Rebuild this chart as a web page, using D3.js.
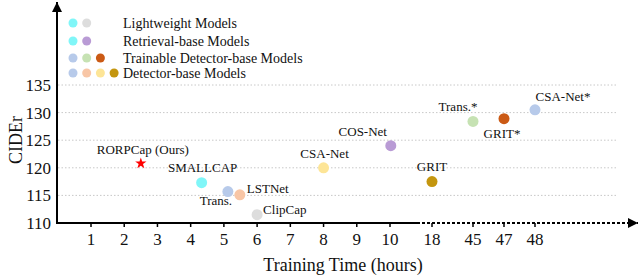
<!DOCTYPE html>
<html>
<head>
<meta charset="utf-8">
<script src="https://cdn.jsdelivr.net/npm/d3@7"></script>
<style>
  body { margin: 0; background: #fff; }
  text { font-family: "Liberation Serif", "DejaVu Serif", serif; fill: #111; }
</style>
</head>
<body>
<svg id="chart" width="640" height="276"></svg>
<script>
// tick labels on the broken time axis
var xTicks = [1, 2, 3, 4, 5, 6, 7, 8, 9, 10, 18, 45, 47, 48];
var yTicks = [110, 115, 120, 125, 130, 135];

// models: name, training hours, CIDEr, colour
var names  = ["SMALLCAP", "Trans.", "LSTNet", "ClipCap", "CSA-Net", "COS-Net", "GRIT", "Trans.*", "GRIT*", "CSA-Net*"];
var hours  = [4.33, 5.12, 5.48, 6.0, 8.0, 10.15, 18, 45, 47, 48];
var cider  = [117.3, 115.7, 115.1, 111.5, 120.0, 124.0, 117.5, 128.4, 128.9, 130.5];
var colors = ["#80f6f8", "#b7caea", "#f8c6a6", "#dddddd", "#fde597", "#b99bd5", "#c4960f", "#c6e2b3", "#cb5a15", "#b7caea"];

var ours = { name: "RORPCap (Ours)", hours: 2.5, cider: 120.8 };

// legend rows
var legendLabels = ["Lightweight Models", "Retrieval-base Models", "Trainable Detector-base Models", "Detector-base Models"];
var legendColors = [
    ["#80f6f8", "#dddddd"],
    ["#80f6f8", "#b99bd5"],
    ["#b7caea", "#c6e2b3", "#cb5a15"],
    ["#b7caea", "#f8c6a6", "#fde597", "#c4960f"]
];

var svg = d3.select("#chart");

// piecewise scale, the axis is broken after 10 hours
var x = d3.scaleLinear()
    .domain([0, 1, 10, 18, 45, 47, 48])
    .range([57, 91, 390, 432, 473, 504, 535]);

var y = d3.scaleLinear()
    .domain([110, 135])
    .range([223, 85]);

// grid
svg.append("g").selectAll("line")
    .data(yTicks.slice(1))
    .enter().append("line")
    .attr("x1", 58).attr("x2", 617)
    .attr("y1", function(d) { return y(d); })
    .attr("y2", function(d) { return y(d); })
    .attr("stroke", "#c8c8c8")
    .attr("stroke-width", 1)
    .attr("stroke-dasharray", "1.5,2");

svg.append("defs").append("marker")
    .attr("id", "arrow")
    .attr("viewBox", "0 0 10 10")
    .attr("refX", 10).attr("refY", 5)
    .attr("markerWidth", 10).attr("markerHeight", 10)
    .attr("markerUnits", "userSpaceOnUse")
    .attr("orient", "auto")
    .append("path")
    .attr("d", "M0,0 L10,5 L0,10 Z")
    .attr("fill", "#000");

// y axis
svg.append("line")
    .attr("x1", 57).attr("x2", 57)
    .attr("y1", 224).attr("y2", 2)
    .attr("stroke", "#000").attr("stroke-width", 2)
    .attr("marker-end", "url(#arrow)");

svg.append("g").selectAll("text")
    .data(yTicks)
    .enter().append("text")
    .attr("x", 51)
    .attr("y", function(d) { return y(d); })
    .attr("dy", "0.35em")
    .attr("text-anchor", "end")
    .style("font-size", "17px")
    .text(function(d) { return d; });

svg.append("text")
    .attr("transform", "translate(22,140) rotate(-90)")
    .attr("text-anchor", "middle")
    .style("font-size", "18px")
    .text("CIDEr");

// x axis: solid part then dashed part
svg.append("line")
    .attr("x1", 56).attr("x2", 417)
    .attr("y1", 223).attr("y2", 223)
    .attr("stroke", "#000").attr("stroke-width", 2);

svg.append("line")
    .attr("x1", 417).attr("x2", 638)
    .attr("y1", 223).attr("y2", 223)
    .attr("stroke", "#000").attr("stroke-width", 2)
    .attr("stroke-dasharray", "3,2")
    .attr("marker-end", "url(#arrow)");

var xt = svg.append("g").selectAll("g")
    .data(xTicks)
    .enter().append("g")
    .attr("transform", function(d) { return "translate(" + x(d) + ",223)"; });

xt.append("line")
    .attr("y1", 0).attr("y2", 4)
    .attr("stroke", "#000").attr("stroke-width", 1.5);

xt.append("text")
    .attr("y", 22)
    .attr("text-anchor", "middle")
    .style("font-size", "17px")
    .text(function(d) { return d; });

svg.append("text")
    .attr("x", 343).attr("y", 271)
    .attr("text-anchor", "middle")
    .style("font-size", "18px")
    .text("Training Time (hours)");

// label offsets per model (dx, dy, anchor)
var labelPos = [
    [1, -11, "middle"],
    [-12, 13, "middle"],
    [7, -2, "start"],
    [6, -1, "start"],
    [1, -10, "middle"],
    [-28, -10, "middle"],
    [0, -11, "middle"],
    [-15, -10, "middle"],
    [-2, 19, "middle"],
    [28, -9, "middle"]
];

var pts = svg.append("g").selectAll("g")
    .data(names)
    .enter().append("g");

pts.append("circle")
    .attr("cx", function(d, i) { return x(hours[i]); })
    .attr("cy", function(d, i) { return y(cider[i]); })
    .attr("r", 5.5)
    .attr("fill", function(d, i) { return colors[i]; });

pts.append("text")
    .attr("x", function(d, i) { return x(hours[i]) + labelPos[i][0]; })
    .attr("y", function(d, i) { return y(cider[i]) + labelPos[i][1]; })
    .attr("text-anchor", function(d, i) { return labelPos[i][2]; })
    .style("font-size", "13px")
    .text(function(d) { return d; });

// our model: red star
svg.append("path")
    .attr("d", d3.symbol().type(d3.symbolStar).size(40)())
    .attr("transform", "translate(" + x(ours.hours) + "," + y(ours.cider) + ")")
    .attr("fill", "#f00");

svg.append("text")
    .attr("x", x(ours.hours) + 2)
    .attr("y", y(ours.cider) - 9)
    .attr("text-anchor", "middle")
    .style("font-size", "13px")
    .text(ours.name);

// legend
var lg = svg.append("g").selectAll("g")
    .data(legendLabels)
    .enter().append("g")
    .attr("transform", function(d, i) { return "translate(0," + [23, 41, 58, 73][i] + ")"; });

lg.selectAll("circle")
    .data(function(d, i) { return legendColors[i]; })
    .enter().append("circle")
    .attr("cx", function(d, j) { return 73 + j * 13.7; })
    .attr("cy", 0)
    .attr("r", 4.5)
    .attr("fill", function(d) { return d; });

lg.append("text")
    .attr("x", 123)
    .attr("dy", "0.35em")
    .style("font-size", "14px")
    .text(function(d) { return d; });
</script>
</body>
</html>
